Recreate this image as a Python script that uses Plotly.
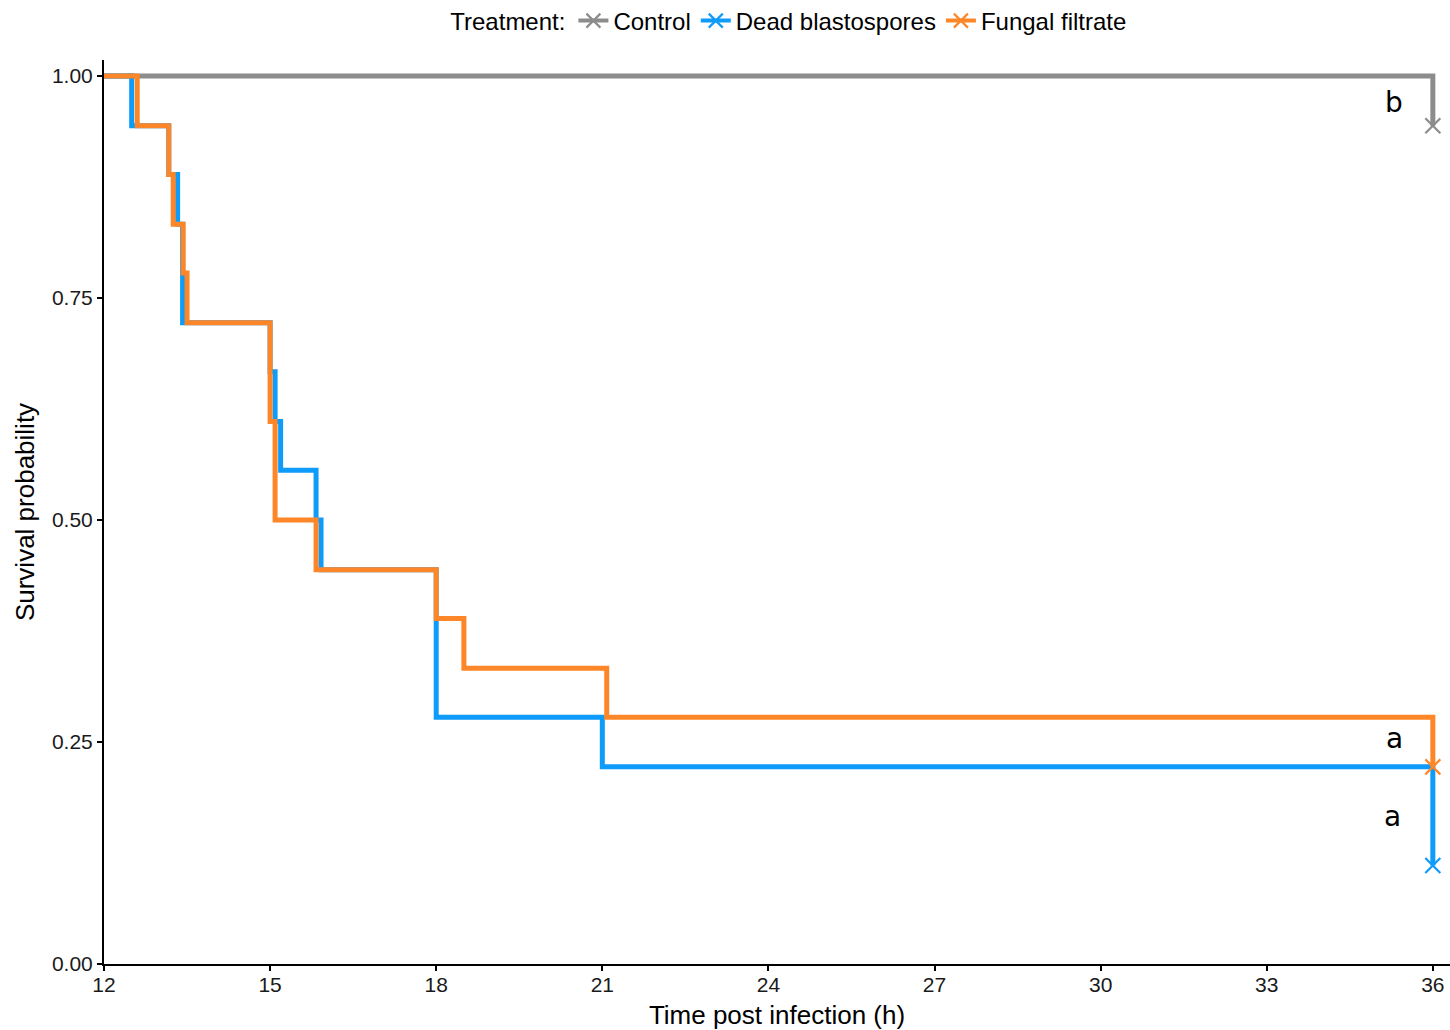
import plotly.graph_objects as go

# Kaplan-Meier estimates: event times (h) and survival probability after each step
control_time = [12.0, 36.0]
control_surv = [1.000, 0.944]

dead_time = [12.0, 12.5, 13.17, 13.33, 13.42, 15.0, 15.09, 15.19, 15.83, 15.92, 18.0, 21.0, 36.0]
dead_surv = [1.000, 0.944, 0.889, 0.833, 0.722, 0.667, 0.611, 0.556, 0.500, 0.444, 0.278, 0.222, 0.111]

filtrate_time = [12.0, 12.6, 13.17, 13.25, 13.43, 13.5, 15.0, 15.09, 15.83, 18.0, 18.5, 21.08, 36.0]
filtrate_surv = [1.000, 0.944, 0.889, 0.833, 0.778, 0.722, 0.611, 0.500, 0.444, 0.389, 0.333, 0.278, 0.222]

treatments = ["Control", "Dead blastospores", "Fungal filtrate"]
colors = ["#8C8C8C", "#0F9BF9", "#FD8628"]
times = [control_time, dead_time, filtrate_time]
survs = [control_surv, dead_surv, filtrate_surv]

# Significance letters (label, time, survival)
sig_labels = ["b", "a", "a"]
sig_x = [35.3, 35.3, 35.28]
sig_y = [0.970, 0.254, 0.166]

x_ticks = [12, 15, 18, 21, 24, 27, 30, 33, 36]
y_ticks = [0.0, 0.25, 0.5, 0.75, 1.0]
y_ticktext = ["0.00", "0.25", "0.50", "0.75", "1.00"]

FONT = "Liberation Sans, Arial, sans-serif"

fig = go.Figure()

for name, col, t, s in zip(treatments, colors, times, survs):
    # step curve
    fig.add_trace(go.Scatter(
        x=t, y=s, mode="lines", line=dict(color=col, width=5, shape="hv"),
        showlegend=False, hoverinfo="skip",
    ))
    # censoring mark at end of follow-up
    fig.add_trace(go.Scatter(
        x=[t[-1]], y=[s[-1]], mode="markers",
        marker=dict(symbol="x-thin", size=15, line=dict(color=col, width=2.2), color=col),
        showlegend=False, hoverinfo="skip",
    ))

# legend entries (line with censor mark)
for name, col in zip(treatments, colors):
    fig.add_trace(go.Scatter(
        x=[None], y=[None], mode="lines+markers", name=name,
        line=dict(color=col, width=4),
        marker=dict(symbol="x-thin", size=14, line=dict(color=col, width=2.2), color=col),
    ))

for lab, xv, yv in zip(sig_labels, sig_x, sig_y):
    fig.add_annotation(x=xv, y=yv, text=lab, showarrow=False,
                       font=dict(family="DejaVu Sans, sans-serif", size=28, color="black"),
                       xanchor="center", yanchor="middle")

axis_common = dict(
    showline=True, linecolor="black", linewidth=2,
    ticks="outside", ticklen=5, tickwidth=2, tickcolor="black",
    showgrid=False, zeroline=False,
    tickfont=dict(family=FONT, size=21, color="#1a1a1a"),
)

fig.update_layout(
    width=1450, height=1030,
    margin=dict(l=104, r=0, t=60, b=66, autoexpand=False),
    paper_bgcolor="white", plot_bgcolor="white",
    xaxis=dict(range=[12, 36.31], tickvals=x_ticks, ticklabelstandoff=-4,
               title=dict(text="Time post infection (h)", standoff=13,
                          font=dict(family=FONT, size=26, color="black")),
               automargin=False, **axis_common),
    yaxis=dict(range=[0, 1.018], tickvals=y_ticks, ticktext=y_ticktext,
               title=dict(text="Survival probability", standoff=10,
                          font=dict(family=FONT, size=26, color="black")),
               automargin=False, **axis_common),
    legend=dict(
        orientation="h", xref="container", yref="container",
        x=0.545, xanchor="center", y=1 - 21 / 1030, yanchor="middle",
        title=dict(text="Treatment:", side="left", font=dict(family=FONT, size=24, color="black")),
        font=dict(family=FONT, size=24, color="black"),
        itemwidth=30, tracegroupgap=0,
        bgcolor="rgba(0,0,0,0)",
    ),
)

fig.write_html("out.html")
